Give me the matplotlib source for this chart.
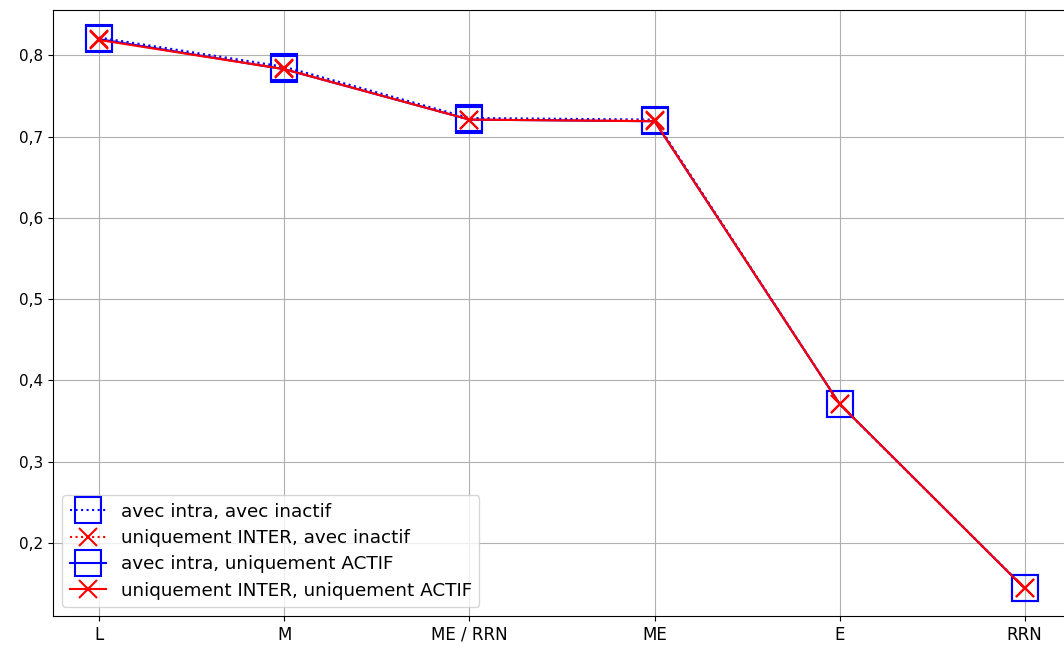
import matplotlib
matplotlib.use('Agg')
import matplotlib.pyplot as plt
from matplotlib.ticker import FuncFormatter

categories = ['L', 'M', 'ME / RRN', 'ME', 'E', 'RRN']

intra_inactif = [0.822, 0.786, 0.723, 0.721, 0.371, 0.144]
inter_inactif = [0.820, 0.784, 0.721, 0.720, 0.371, 0.144]
intra_actif = [0.820, 0.783, 0.721, 0.719, 0.371, 0.144]
inter_actif = [0.819, 0.783, 0.721, 0.719, 0.371, 0.144]

plt.rcParams['font.size'] = 11

fig = plt.figure(figsize=(10.64, 6.48), dpi=100)
# the original picture is cropped on the right, so the axes run past the edge
ax = fig.add_axes([53 / 1064, 1 - 616 / 648, 1018 / 1064, 606 / 648])

ax.plot(categories, intra_inactif, ':', color='blue', marker='s', markersize=19,
        fillstyle='none', markeredgewidth=1.5, label='avec intra, avec inactif')
ax.plot(categories, inter_inactif, ':', color='red', marker='x', markersize=13,
        markeredgewidth=1.5, label='uniquement INTER, avec inactif')
ax.plot(categories, intra_actif, '-', color='blue', marker='s', markersize=19,
        fillstyle='none', markeredgewidth=1.5, label='avec intra, uniquement ACTIF')
ax.plot(categories, inter_actif, '-', color='red', marker='x', markersize=13,
        markeredgewidth=1.5, label='uniquement INTER, uniquement ACTIF')

ax.yaxis.set_major_formatter(FuncFormatter(lambda v, p: f'{v:.1f}'.replace('.', ',')))
ax.tick_params(axis='x', labelsize=12)
ax.grid(True)
ax.legend(loc='lower left', fontsize='large', borderaxespad=0.5, labelspacing=0.45)

fig.savefig('out.png', dpi=100)
